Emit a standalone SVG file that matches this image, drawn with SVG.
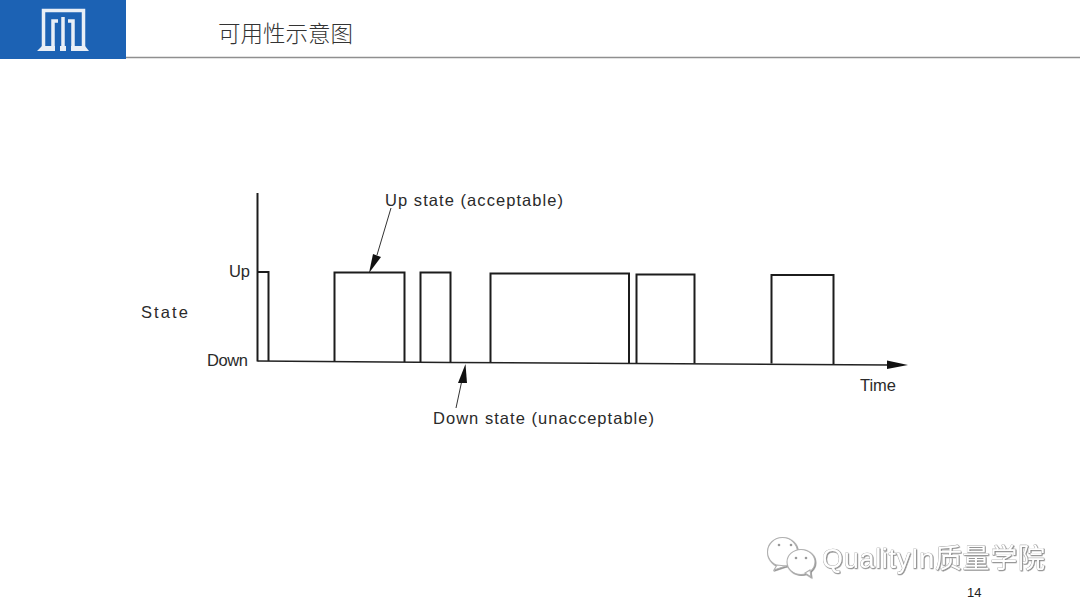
<svg xmlns="http://www.w3.org/2000/svg" width="1080" height="608" viewBox="0 0 1080 608">
<defs><style>
.l{fill:none;stroke:#1c1c1c;stroke-width:2;stroke-linejoin:miter}
.bl{fill:none;stroke:#222;stroke-width:1.5}
.t{fill:none;stroke:#333;stroke-width:1}
.h{fill:#111;stroke:none}
.d{font-family:"Liberation Sans",sans-serif;font-size:16.5px;fill:#2a2a2a}
.w{font-family:"Liberation Sans","Noto Sans CJK SC",sans-serif;font-size:27px;fill:#fff;stroke:#9c9c9c;stroke-width:.6;paint-order:stroke}
.b{fill:#fff;stroke:#b0b0b0;stroke-width:1.1}
.e{fill:#999}
.m{fill:none;stroke:#e8eef6;stroke-width:3.5}
</style>
<filter id="emb" x="-5%" y="-20%" width="110%" height="140%"><feDropShadow dx=".7" dy=".7" stdDeviation=".35" flood-color="#777"/></filter>
</defs>
<rect width="1080" height="608" fill="#fff"/>
<g id="header">
<rect x="0" y="0" width="126" height="59" fill="#1c62b4"/>
<line x1="126" y1="57.500" x2="1080" y2="57.500" stroke="#8f8f8f" stroke-width="1.500"/>
<g id="logo">
<path class="m" d="M43.500 48V10.500H83.500V48"/>
<path class="m" d="M53 48V21H58"/>
<path class="m" d="M63 17V49"/>
<path class="m" d="M73 48V21H68"/>
<path fill="#e8eef6" d="M37 51L42 46H55V51ZM60 46H66V51H60ZM71 46H85L89 51H71Z"/>
</g>
<text x="218" y="42" font-family="'Noto Sans CJK SC','Liberation Serif',serif" font-size="22.500" font-weight="300" fill="#333">可用性示意图</text>
</g>
<g id="connectors">
<path class="l" d="M257.500 193V361.500"/>
<path class="l" d="M257.500 272H268.500V361"/>
<path class="bl" d="M257.500 361L450 362.500L636 363.500L890 365"/>
<path class="l" d="M334.500 361.500V272.500H404.500V362"/>
<path class="l" d="M420.500 362V272.500H450.500V362.500"/>
<path class="l" d="M490.500 362.500V273.500H629V363"/>
<path class="l" d="M636.500 363V274.500H694.500V363.500"/>
<path class="l" d="M771.500 363.500V275H833.500V364"/>
<path class="h" d="M887 360.500L908 365L887 369Z"/>
<path class="t" d="M391 208L377 255"/>
<path class="h" d="M373 254L381 257L369 273Z"/>
<path class="t" d="M456 408L462 380"/>
<path class="h" d="M458 383L467 383L465.500 364Z"/>
</g>
<g id="labels">
<text class="d" x="385" y="206" textLength="178">Up state (acceptable)</text>
<text class="d" x="229" y="277" textLength="21">Up</text>
<text class="d" x="141" y="318" textLength="47">State</text>
<text class="d" x="207" y="366" textLength="41">Down</text>
<text class="d" x="860" y="391" textLength="36">Time</text>
<text class="d" x="433" y="424" textLength="221">Down state (unacceptable)</text>
</g>
<g id="watermark" filter="url(#emb)">
<ellipse class="b" cx="782.500" cy="552" rx="15" ry="14.500"/>
<path class="b" d="M777 565L774 570L786 566Z"/>
<circle class="e" cx="779" cy="545" r="1.300"/>
<circle class="e" cx="791" cy="545" r="1.300"/>
<ellipse class="b" cx="801" cy="562" rx="14" ry="12.500"/>
<path class="b" d="M805 573L811 577L810 570Z"/>
<circle class="e" cx="796" cy="558" r="1.300"/>
<circle class="e" cx="806" cy="558" r="1.300"/>
<text class="w" x="822" y="568" textLength="223">QualityIn质量学院</text>
</g>
<text id="page" x="967" y="597" font-family="'Liberation Sans',sans-serif" font-size="13" fill="#222">14</text>
</svg>
